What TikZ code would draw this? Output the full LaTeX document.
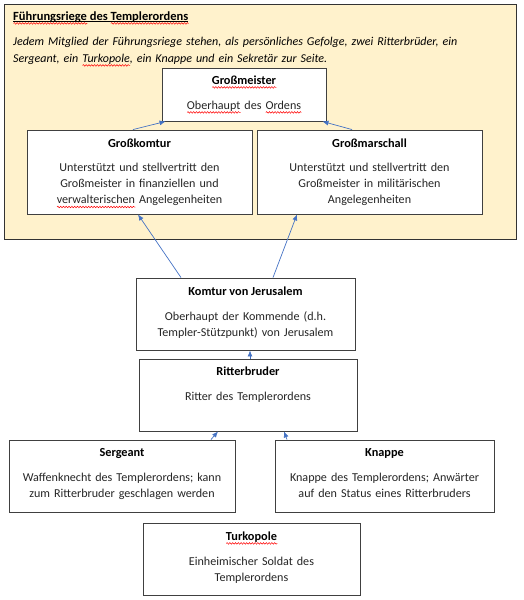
\documentclass[tikz,border=0pt]{standalone}
\usepackage{fontspec}
\setmainfont{Carlito}
\usetikzlibrary{arrows.meta,decorations.pathmorphing}
\newsavebox\rwbox
\newcommand\rw[1]{\sbox\rwbox{#1}\edef\rwlen{\the\wd\rwbox}\leavevmode\rlap{\tikz[baseline=0pt]\draw[red, line width=0.5pt, decorate, decoration={snake, amplitude=0.8pt, segment length=2.8pt}] (0pt,-3.4pt) -- (\rwlen,-3.4pt);}\usebox\rwbox}
\definecolor{frameyellow}{HTML}{FFF2CC}
\definecolor{arrowblue}{HTML}{4472C4}
\definecolor{boxgray}{HTML}{404040}
\definecolor{bodytext}{HTML}{262626}
\begin{document}
\begin{tikzpicture}[x=1pt,y=-1pt,
  frame/.style={draw=black!80, line width=1pt, fill=frameyellow, inner sep=0pt},
  box/.style={draw=boxgray, line width=0.9pt, fill=white, inner sep=0pt},
  ttl/.style={anchor=base, inner sep=0pt, font=\fontsize{12.3}{16.3}\selectfont\bfseries, text=black},
  body/.style={anchor=base, inner sep=0pt, align=center, text width=#1, font=\fontsize{12.1}{16.3}\selectfont, text=bodytext},
  arr/.style={draw=arrowblue, line width=0.7pt, -{Latex[length=6pt,width=5pt]}}
]
\useasboundingbox (0,0) rectangle (523,600);

% outer frame
\node[frame, minimum width=512pt, minimum height=235pt] (fr) at (260,121.5) {};
\node[anchor=base west, inner sep=0pt, font=\fontsize{12.5}{16.3}\selectfont\bfseries] (frt) at (13,20)
  {\rw{Führungsriege} des \rw{Templerordens}};
\draw[line width=0.6pt] ([yshift=-1.5pt]frt.base west) -- ([yshift=-1.5pt]frt.base east);
\node[anchor=base west, inner sep=0pt, align=left, text width=500pt,
  font=\fontsize{12}{17}\selectfont\itshape] (frd) at (13,45)
  {Jedem Mitglied der Führungsriege stehen, als persönliches Gefolge, zwei Ritterbrüder, ein\\
   Sergeant, ein \rw{Turkopole}, ein Knappe und ein Sekretär zur Seite.};

% Großmeister
\node[box, minimum width=164pt, minimum height=53pt] (gm) at (244,94.5) {};
\node[ttl] (gmt) at (244,84) {\rw{Großmeister}};
\node[body=160pt] (gmb) at (244,109) {\rw{Oberhaupt} des \rw{Ordens}};

% Großkomtur
\node[box, minimum width=225pt, minimum height=84pt] (gk) at (139.5,172) {};
\node[ttl] (gkt) at (139.5,147) {Großkomtur};
\node[body=220pt] (gkb) at (139.5,171)
  {Unterstützt und stellvertritt den\\Großmeister in finanziellen und\\\rw{verwalterischen} Angelegenheiten};

% Großmarschall
\node[box, minimum width=225pt, minimum height=84pt] (gma) at (369.5,172) {};
\node[ttl] (gmat) at (369.5,147) {Großmarschall};
\node[body=220pt] (gmab) at (369.5,171)
  {Unterstützt und stellvertritt den\\Großmeister in militärischen\\Angelegenheiten};

% Komtur von Jerusalem
\node[box, minimum width=219pt, minimum height=72pt] (kj) at (245.5,314) {};
\node[ttl] (kjt) at (245.5,295) {Komtur von Jerusalem};
\node[body=215pt] (kjb) at (245.5,320)
  {Oberhaupt der Kommende (d.h.\\Templer-Stützpunkt) von Jerusalem};

% Ritterbruder
\node[box, minimum width=218pt, minimum height=72pt] (rb) at (248,395) {};
\node[ttl] (rbt) at (248,375) {Ritterbruder};
\node[body=214pt] (rbb) at (248,400) {Ritter des Templerordens};

% Sergeant
\node[box, minimum width=226pt, minimum height=72pt] (se) at (122,476) {};
\node[ttl] (set) at (122,456) {Sergeant};
\node[body=222pt] (seb) at (122,481)
  {Waffenknecht des Templerordens; kann\\zum Ritterbruder geschlagen werden};

% Knappe
\node[box, minimum width=219pt, minimum height=72pt] (kn) at (384.5,476) {};
\node[ttl] (knt) at (384.5,456) {Knappe};
\node[body=215pt] (knb) at (384.5,481)
  {Knappe des Templerordens; Anwärter\\auf den Status eines Ritterbruders};

% Turkopole
\node[box, minimum width=217pt, minimum height=72pt] (tk) at (251.5,559) {};
\node[ttl] (tkt) at (251.5,540) {\rw{Turkopole}};
\node[body=213pt] (tkb) at (251.5,565)
  {Einheimischer Soldat des\\Templerordens};

% connectors
\draw[arr] ([xshift=-6.5pt]gk.north) -- ([xshift=4pt]gm.south west);
\draw[arr] ([xshift=-17.5pt]gma.north) -- ([xshift=-4pt]gm.south east);
\draw[arr] ([xshift=-64.5pt]kj.north) -- ([xshift=-1.5pt]gk.south);
\draw[arr] ([xshift=27.5pt]kj.north) -- ([xshift=-72.5pt]gma.south);
\draw[arr] ([xshift=2pt]rb.north) -- ([xshift=4.5pt]kj.south);
\draw[arr] ([xshift=89pt]se.north) -- ([xshift=-30pt]rb.south);
\draw[arr] ([xshift=-97.5pt]kn.north) -- ([xshift=36pt]rb.south);
\end{tikzpicture}
\end{document}
